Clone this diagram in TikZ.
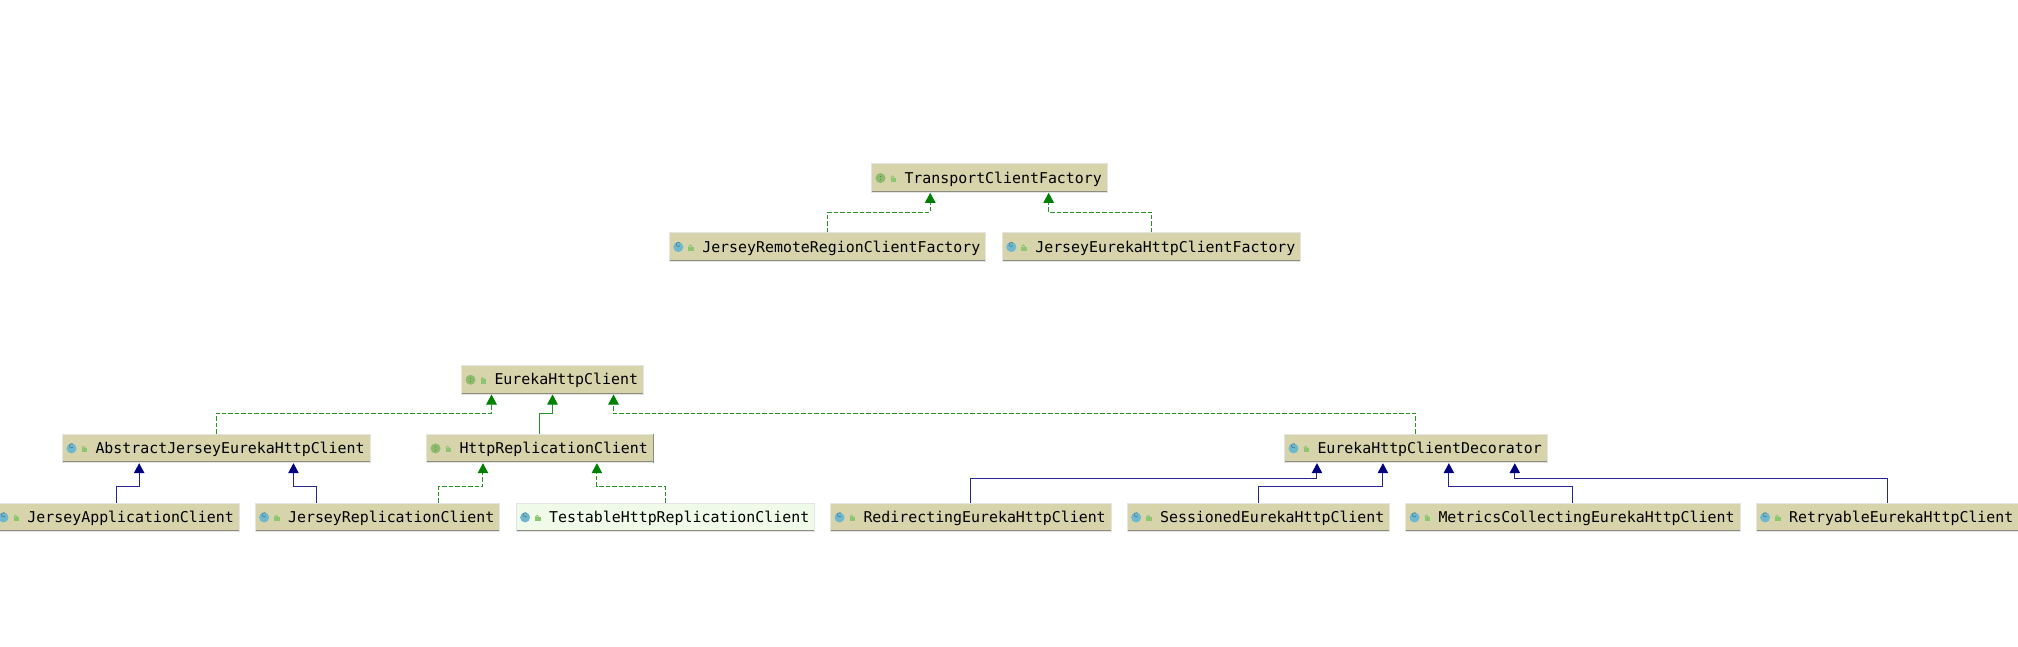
\documentclass[tikz,border=0pt]{standalone}
\usepackage{fontspec}
\setmonofont{DejaVu Sans Mono}
\usetikzlibrary{arrows.meta,calc}
\definecolor{boxtan}{HTML}{D7D4AC}
\definecolor{boxmint}{HTML}{F0FAE8}
\definecolor{boxrim}{HTML}{E4E4E4}
\definecolor{boxshade}{HTML}{8C8C80}
\definecolor{iconblue}{HTML}{6FB7CF}
\definecolor{icongreen}{HTML}{8DBB6C}
\definecolor{lockgreen}{HTML}{8CC66E}
\definecolor{linkgreen}{HTML}{008000}
\definecolor{linkblue}{HTML}{000080}
\newcommand{\boxedge}{%
  \draw[boxshade,line width=3pt] (path picture bounding box.south west)--(path picture bounding box.south east);}
\newcommand{\lockicon}{%
  \fill[lockgreen] ($(path picture bounding box.west)+(19,-0.5)$) rectangle ++(5.4,4.4);
  \draw[lockgreen,line width=0.9pt] ($(path picture bounding box.west)+(19.4,-0.5)$) arc (180:360:1.7);}
\tikzset{
  classbox/.style={draw=boxrim, line width=1pt, fill=boxtan, anchor=north west, font=\ttfamily\fontsize{14.9}{16}\selectfont,
    minimum height=28.5pt, inner xsep=5.5pt, inner ysep=0pt, text height=11pt, text depth=0.7pt,
    execute at begin node={\hspace*{27.5pt}}},
  classicon/.style={path picture={\boxedge
    \fill[iconblue] ($(path picture bounding box.west)+(9,0)$) circle (5);
    \draw[black!35!iconblue,line width=0.5pt] ($(path picture bounding box.west)+(10.6,-1.4)$) arc (40:320:2.1);
    \lockicon}},
  ifaceicon/.style={path picture={\boxedge
    \fill[icongreen] ($(path picture bounding box.west)+(9,0)$) circle (5);
    \fill[black!35!icongreen] ($(path picture bounding box.west)+(9,-1.6)$) circle (0.6) ($(path picture bounding box.west)+(9,1.6)$) circle (0.6);
    \lockicon}},
  greenlink/.style={draw=linkgreen!85!white, line width=1pt, -{Triangle[length=10pt,width=10.5pt,color=linkgreen,fill=linkgreen]}},
  dashgreen/.style={greenlink, dash pattern=on 4.5pt off 2pt},
  bluelink/.style={draw=linkblue!85!white, line width=1pt, -{Triangle[length=10pt,width=10.5pt,color=linkblue,fill=linkblue]}}
}
\begin{document}
\begin{tikzpicture}[x=1pt,y=-1pt]
\useasboundingbox (0,0) rectangle (2018,647);

% top group
\node[classbox,ifaceicon] (transport) at (871,163.3) {TransportClientFactory};
\node[classbox,classicon] (remotefactory) at (668.8,232.3) {JerseyRemoteRegionClientFactory};
\node[classbox,classicon] (jerseyfactory) at (1001.8,232.3) {JerseyEurekaHttpClientFactory};

% interface row
\node[classbox,ifaceicon] (eureka) at (461,365) {EurekaHttpClient};

% middle row
\node[classbox,classicon] (abstractjersey) at (62,433.7) {AbstractJerseyEurekaHttpClient};
\node[classbox,ifaceicon] (httprepl) at (426,433.7) {HttpReplicationClient};
\node[classbox,classicon] (decorator) at (1284,433.7) {EurekaHttpClientDecorator};

% bottom row
\node[classbox,classicon] (jerseyapp) at (-6,502.7) {JerseyApplicationClient};
\node[classbox,classicon] (jerseyrepl) at (254.6,502.7) {JerseyReplicationClient};
\node[classbox,classicon,fill=boxmint] (testable) at (515.6,502.7) {TestableHttpReplicationClient};
\node[classbox,classicon] (redirecting) at (830,502.7) {RedirectingEurekaHttpClient};
\node[classbox,classicon] (sessioned) at (1126.6,502.7) {SessionedEurekaHttpClient};
\node[classbox,classicon] (metrics) at (1405,502.7) {MetricsCollectingEurekaHttpClient};
\node[classbox,classicon] (retryable) at (1755.6,502.7) {RetryableEurekaHttpClient};

\draw[boxshade,line width=1pt] (httprepl.north east) -- (httprepl.south east);

% links
\draw[dashgreen] (remotefactory.north) -- ++(0,-20) -| ($(transport.south west)!0.25!(transport.south east)$);
\draw[dashgreen] (jerseyfactory.north) -- ++(0,-20) -| ($(transport.south west)!0.75!(transport.south east)$);

\draw[dashgreen] (abstractjersey.north) -- ++(0,-20.4) -| ($(eureka.south west)!0.1667!(eureka.south east)$);
\draw[greenlink] (httprepl.north) -- ++(0,-20.4) -| (eureka.south);
\draw[dashgreen] (decorator.north) -- ++(0,-20.4) -| ($(eureka.south west)!0.8333!(eureka.south east)$);

\draw[bluelink] (jerseyapp.north) -- ++(0,-16.4) -| ($(abstractjersey.south west)!0.25!(abstractjersey.south east)$);
\draw[bluelink] ($(jerseyrepl.north west)!0.25!(jerseyrepl.north east)$) -- ++(0,-16.4) -| ($(abstractjersey.south west)!0.75!(abstractjersey.south east)$);
\draw[dashgreen] ($(jerseyrepl.north west)!0.75!(jerseyrepl.north east)$) -- ++(0,-16.4) -| ($(httprepl.south west)!0.25!(httprepl.south east)$);
\draw[dashgreen] (testable.north) -- ++(0,-16.4) -| ($(httprepl.south west)!0.75!(httprepl.south east)$);

\draw[bluelink] (redirecting.north) -- ++(0,-24.4) -| ($(decorator.south west)!0.125!(decorator.south east)$);
\draw[bluelink] (sessioned.north) -- ++(0,-16.4) -| ($(decorator.south west)!0.375!(decorator.south east)$);
\draw[bluelink] (metrics.north) -- ++(0,-16.4) -| ($(decorator.south west)!0.625!(decorator.south east)$);
\draw[bluelink] (retryable.north) -- ++(0,-24.4) -| ($(decorator.south west)!0.875!(decorator.south east)$);
\end{tikzpicture}
\end{document}
